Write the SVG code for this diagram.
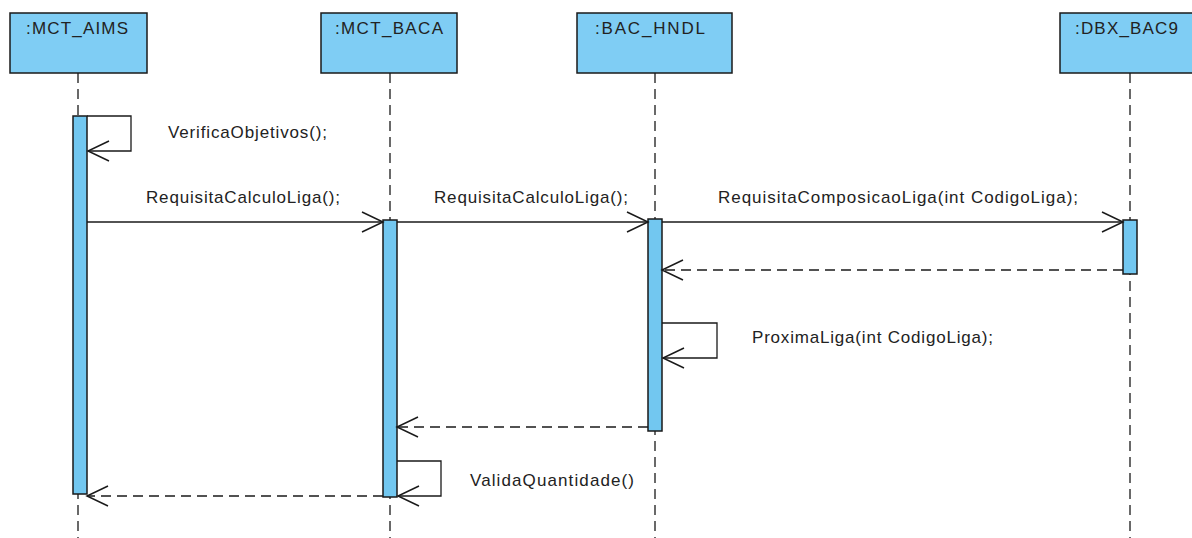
<svg xmlns="http://www.w3.org/2000/svg" width="1192" height="538" viewBox="0 0 1192 538">
<defs>
<marker id="open" viewBox="-23 -12 25 24" markerWidth="25" markerHeight="24" refX="0" refY="0" orient="auto" markerUnits="userSpaceOnUse">
<path d="M -21 -10 L 0 0 L -21 10" fill="none" stroke="#1a1a1a" stroke-width="1.5"/>
</marker>
</defs>
<style>
.box{fill:#7fcdf4;stroke:#1a1a1a;stroke-width:1.5}
.bar{fill:#72c7f0;stroke:#1a1a1a;stroke-width:1.5}
.life{stroke:#1a1a1a;stroke-width:1.3;stroke-dasharray:10 6;fill:none}
.msg{stroke:#1a1a1a;stroke-width:1.3;fill:none;marker-end:url(#open)}
.ret{stroke:#1a1a1a;stroke-width:1.3;fill:none;stroke-dasharray:10 6;marker-end:url(#open)}
text{font-family:"Liberation Sans",Arial,sans-serif;font-size:17px;fill:#222}
</style>
<rect width="1192" height="538" fill="#ffffff"/>
<g id="lifelines">
<line class="life" x1="78" y1="73" x2="78" y2="538"/>
<line class="life" x1="390" y1="73" x2="390" y2="538"/>
<line class="life" x1="655" y1="73" x2="655" y2="538"/>
<line class="life" x1="1130" y1="73" x2="1130" y2="538"/>
</g>
<g id="node-mct-aims">
<rect class="box" x="10" y="13" width="137" height="60"/>
<text x="26" y="34" textLength="102" lengthAdjust="spacing">:MCT_AIMS</text>
<rect class="bar" x="73" y="116" width="14" height="378"/>
</g>
<g id="node-mct-baca">
<rect class="box" x="321" y="13" width="136" height="60"/>
<text x="335" y="34" textLength="108" lengthAdjust="spacing">:MCT_BACA</text>
<rect class="bar" x="383" y="220" width="14" height="277"/>
</g>
<g id="node-bac-hndl">
<rect class="box" x="577" y="13" width="155" height="60"/>
<text x="595" y="34" textLength="110" lengthAdjust="spacing">:BAC_HNDL</text>
<rect class="bar" x="648" y="219" width="14" height="212"/>
</g>
<g id="node-dbx-bac9">
<rect class="box" x="1060" y="13" width="140" height="60"/>
<text x="1075" y="34" textLength="103" lengthAdjust="spacing">:DBX_BAC9</text>
<rect class="bar" x="1123" y="220" width="14" height="54"/>
</g>
<g id="connectors">
<polyline class="msg" points="87,116 131,116 131,151 88,151"/>
<line class="msg" x1="87" y1="222" x2="383" y2="222"/>
<line class="msg" x1="397" y1="222" x2="648" y2="222"/>
<line class="msg" x1="662" y1="222" x2="1123" y2="222"/>
<line class="ret" x1="1123" y1="270" x2="662" y2="270"/>
<polyline class="msg" points="662,323 717,323 717,358 663,358"/>
<line class="ret" x1="648" y1="427" x2="397" y2="427"/>
<polyline class="msg" points="397,461 441,461 441,496 398,496"/>
<line class="ret" x1="383" y1="496" x2="87" y2="496"/>
</g>
<g id="labels">
<text x="168" y="138" textLength="159" lengthAdjust="spacing">VerificaObjetivos();</text>
<text x="146" y="203" textLength="194" lengthAdjust="spacing">RequisitaCalculoLiga();</text>
<text x="434" y="203" textLength="194" lengthAdjust="spacing">RequisitaCalculoLiga();</text>
<text x="718" y="203" textLength="360" lengthAdjust="spacing">RequisitaComposicaoLiga(int CodigoLiga);</text>
<text x="752" y="343" textLength="241" lengthAdjust="spacing">ProximaLiga(int CodigoLiga);</text>
<text x="470" y="486" textLength="164" lengthAdjust="spacing">ValidaQuantidade()</text>
</g>
</svg>
